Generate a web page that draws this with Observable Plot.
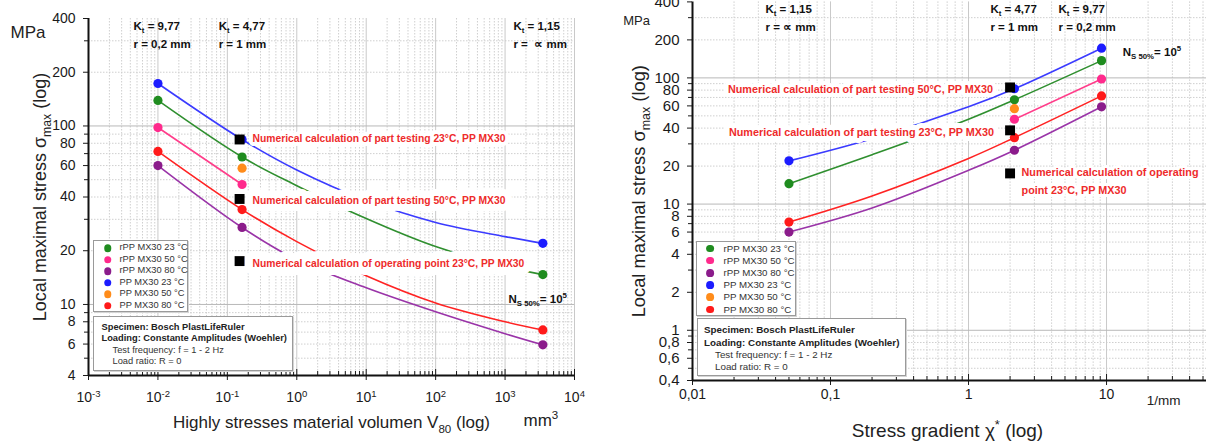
<!DOCTYPE html>
<html><head><meta charset="utf-8">
<script src="https://cdn.jsdelivr.net/npm/d3@7"></script>
<script src="https://cdn.jsdelivr.net/npm/@observablehq/plot@0.6"></script>
<style>
html,body{margin:0;padding:0;background:#fff;}
#wrap{position:relative;width:1206px;height:443px;overflow:hidden;background:#fff;font-family:"Liberation Sans",Arial,Helvetica,sans-serif;}
.panel{position:absolute;top:0;}
.box{position:absolute;background:#fff;border:1px solid #9a9a9a;box-shadow:1px 1px 0 #d4d4d4;box-sizing:border-box;}
.row{position:absolute;white-space:nowrap;line-height:1;transform:translateY(-50%);color:#333;}
.dot{position:absolute;border-radius:50%;transform:translate(-50%,-50%);}
</style></head><body><div id="wrap"></div>
<script>
// ---------------- data ----------------
const seriesNames = ["rPP MX30 23 °C", "rPP MX30 50 °C", "rPP MX30 80 °C", "PP MX30 23 °C", "PP MX30 50 °C", "PP MX30 80 °C"];
const dotColors  = ["#1f8c1f", "#ff2a8c", "#8b1c8b", "#1c1cff", "#ff8c1a", "#ff1a1a"];
const lineColors = ["#2f8f2f", "#ff3d8a", "#9a34a8", "#3b3bff", "#ff8c1a", "#ff2323"];

// Left panel: highly stressed volume V80 (mm^3) — measured points
const volX     = [0.01, 0.163, 3500];
const volRPP23 = [139, 67, 14.7];
const volRPP50 = [98, 47, null];
const volRPP80 = [60, 27, 5.94];
const volPP23  = [173, 84, 22];
const volPP50  = [null, 58, null];
const volPP80  = [72, 34, 7.2];
// Left panel: fitted curves
const volCurveX     = [0.01, 0.163, 1, 10, 100, 1000, 3500];
const volCurveRPP23 = [139, 67, 46.3, 30.3, 21.1, 16.3, 14.7];
const volCurveRPP50 = [98, 47, null, null, null, null, null];
const volCurveRPP80 = [60, 27, 17.8, 12.4, 9.1, 6.86, 5.94];
const volCurvePP23  = [173, 84, 56.7, 38.3, 28.8, 24.0, 22];
const volCurvePP50  = [null, null, null, null, null, null, null];
const volCurvePP80  = [72, 34, 22.5, 14.5, 10.2, 8.0, 7.2];
// Left panel: numerical calculations
const volSquareX = [0.15, 0.15, 0.15];
const volSquareY = [84, 39, 17.5];
const volSquareText = ["Numerical calculation of part testing 23°C, PP MX30", "Numerical calculation of part testing 50°C, PP MX30", "Numerical calculation of operating point 23°C, PP MX30"];

// Right panel: stress gradient chi* (1/mm) — measured points
const gradX     = [0.05, 2.15, 9.2];
const gradRPP23 = [14.5, 67, 137];
const gradRPP50 = [null, 47, 98];
const gradRPP80 = [6, 26.7, 59];
const gradPP23  = [22, 82, 172];
const gradPP50  = [null, 57, null];
const gradPP80  = [7.2, 33.6, 72];
const gradCurveX     = [0.05, 0.2, 1, 2.15, 9.2];
const gradCurveRPP23 = [14.5, 24.6, 47, 67, 137];
const gradCurveRPP50 = [null, null, null, 47, 98];
const gradCurveRPP80 = [6, 9.3, 18.5, 26.7, 59];
const gradCurvePP23  = [22, 33, 59, 82, 172];
const gradCurvePP50  = [null, null, null, null, null];
const gradCurvePP80  = [7.2, 11.6, 23, 33.6, 72];
const gradSquareX = [2, 2, 2];
const gradSquareY = [84, 38.4, 17.5];
const gradSquareText = ["Numerical calculation of part testing 50°C, PP MX30", "Numerical calculation of part testing 23°C, PP MX30", "Numerical calculation of operating\npoint 23°C, PP MX30"];

// notch annotations
const volKtX = [0.00445, 0.0749, 1320];
const gradKtX = [0.0338, 1.44, 4.49];
const ktLeft = ["K_{t} = 9,77", "K_{t} = 4,77", "K_{t} = 1,15"];
const rLeft  = ["r = 0,2 mm", "r = 1 mm", "r =  ∝ mm"];
const ktRight = ["K_{t} = 1,15", "K_{t} = 4,77", "K_{t} = 9,77"];
const rRight  = ["r = ∝ mm", "r = 1 mm", "r = 0,2 mm"];

// ticks
const volDecades = [1e-3, 1e-2, 1e-1, 1, 10, 100, 1000, 10000];
const volYLabels = [4, 6, 8, 10, 20, 40, 60, 80, 100, 200, 400];
const volYMinor  = [5, 7, 9, 30, 50, 70, 90, 300];
const volYGrid   = [5, 6, 7, 8, 9, 20, 30, 40, 50, 60, 70, 80, 90, 200, 300];
const gradDecades = [0.01, 0.1, 1, 10];
const gradYLabels = [0.4, 0.6, 0.8, 1, 2, 4, 6, 8, 10, 20, 40, 60, 80, 100, 200, 400];
const gradYMinor  = [0.5, 0.7, 0.9, 3, 5, 7, 9, 30, 50, 70, 90, 300];
const gradYGrid   = [0.5, 0.6, 0.7, 0.8, 0.9, 2, 3, 4, 5, 6, 7, 8, 9, 20, 30, 40, 50, 60, 70, 80, 90, 200, 300];

const infoLines = ["Specimen: Bosch PlastLifeRuler", "Loading: Constante Amplitudes (Woehler)", "Test frequency: f = 1 - 2 Hz", "Load ratio: R = 0"];

// ---------------- helpers ----------------
const FONT = '"Liberation Sans", Arial, Helvetica, sans-serif';
const NS = "http://www.w3.org/2000/svg";
const INK = "#1a1a1a";

function minorOf(decades, max) {
  const out = [];
  decades.forEach(d => { for (let k = 2; k <= 9; k++) { const v = +(d * k).toPrecision(3); if (v <= max) out.push(v); } });
  return out;
}
function rows(xs, ys) { return xs.map((x, j) => ({x, y: ys[j]})).filter(d => d.y != null); }
const comma = d => String(d).replace(".", ",");

function richify(root) {
  root.querySelectorAll("text, tspan").forEach(el => {
    if (el.children.length) return;
    const s = el.textContent;
    if (!/[_^]\{/.test(s)) return;
    const fs = parseFloat(getComputedStyle(el).fontSize) || 12;
    el.textContent = "";
    const re = /([_^])\{([^}]*)\}/g;
    let last = 0, m, shift = 0;
    const add = (txt, kind) => {
      const ts = document.createElementNS(NS, "tspan");
      const target = kind === "_" ? 0.28 * fs : kind === "^" ? -0.42 * fs : 0;
      if (target - shift !== 0) ts.setAttribute("dy", (target - shift).toFixed(2));
      shift = target;
      if (kind) ts.setAttribute("font-size", (fs * 0.68).toFixed(2));
      ts.textContent = txt;
      el.appendChild(ts);
    };
    while ((m = re.exec(s))) {
      if (m.index > last) add(s.slice(last, m.index), null);
      add(m[2], m[1]);
      last = re.lastIndex;
    }
    if (last < s.length) add(s.slice(last), null);
  });
}

function seriesMarks(curveX, curves, px, points) {
  const marks = [];
  curves.forEach((c, i) => {
    const r = rows(curveX, c);
    if (r.length > 1) marks.push(Plot.line(r, {x: "x", y: "y", stroke: lineColors[i], strokeWidth: 1.6, curve: "catmull-rom"}));
  });
  points.forEach((p, i) => {
    marks.push(Plot.dot(rows(px, p), {x: "x", y: "y", r: 4.6, fill: dotColors[i], stroke: "none"}));
  });
  return marks;
}

function axesMarks(o) {
  return [
    Plot.gridX(o.xMinor, {stroke: "#cfcfcf", strokeOpacity: 1, strokeDasharray: "1.5,1.5"}),
    Plot.gridY(o.yGrid, {stroke: "#cfcfcf", strokeOpacity: 1, strokeDasharray: "1.5,1.5"}),
    Plot.gridX(o.xMajorGrid, {stroke: "#c9c9c9", strokeOpacity: 1}),
    Plot.gridY(o.yMajorGrid, {stroke: "#b8b8b8", strokeOpacity: 1}),
    Plot.axisY(o.yLabels, {tickSize: 5, color: INK, label: null, text: null}),
    Plot.axisY(o.yMinor, {tickSize: 4, color: INK, label: null, text: null}),
    Plot.text(o.yLabels, {y: d => d, text: o.yFmt, frameAnchor: "left", dx: -(5 + o.yPad), textAnchor: "end", lineAnchor: "middle", fontSize: o.yFont, fill: INK}),
    Plot.axisX(o.xMajor, {tickSize: 5, color: INK, label: null, text: null}),
    Plot.text(o.xMajor, {x: d => d, text: o.xFmt, frameAnchor: "bottom", dy: 5 + o.xPad, textAnchor: "middle", lineAnchor: "top", fontSize: 14, fill: INK}),
    Plot.tickX(o.xMinor, {x: d => d, insetTop: o.frameH - 4, stroke: INK}),
    Plot.tickX(o.xMajor, {x: d => d, insetTop: o.frameH - 6, stroke: INK}),
    Plot.ruleX([o.xMajor[0]], {stroke: "#111", strokeWidth: 2}),
    Plot.ruleY([o.yLabels[0]], {stroke: "#111", strokeWidth: 2})
  ];
}

function labelMarks(sx, sy, texts, opts, fs) {
  const data = sy.map((y, i) => ({x: sx[i], y, t: texts[i]}));
  const marks = [Plot.dot(data, {x: "x", y: "y", symbol: "square", r: 5.6, fill: "#000"})];
  opts.forEach((o, i) => {
    marks.push(Plot.text([data[i]], {x: "x", y: "y", text: "t", textAnchor: o.anchor, lineAnchor: "middle", dx: o.dx, dy: o.dy,
      lineHeight: 1.72, fill: "#ee2b2b", fontWeight: "bold", fontSize: fs, stroke: "white", strokeWidth: o.halo, strokeLinejoin: "round", paintOrder: "stroke"}));
  });
  return marks;
}

function ktMarks(xs, kt, rr, dy1, dy2) {
  const d1 = xs.map((x, i) => ({x, t: kt[i]}));
  const d2 = xs.map((x, i) => ({x, t: rr[i]}));
  const common = {x: "x", text: "t", frameAnchor: "top", textAnchor: "start", lineAnchor: "middle", fontWeight: "bold", fontSize: 11.5, fill: "#111"};
  return [Plot.text(d1, {...common, dy: dy1}), Plot.text(d2, {...common, dy: dy2})];
}

// ---------------- left panel ----------------
const wrap = document.getElementById("wrap");
const volFrameH = 443 - 18 - 68;
const left = Plot.plot({
  width: 600, height: 443,
  marginLeft: 88, marginRight: 26, marginTop: 18, marginBottom: 68,
  x: {type: "log", domain: [1e-3, 1e4]},
  y: {type: "log", domain: [4, 400]},
  style: {fontFamily: FONT, fontSize: "12px", background: "transparent", overflow: "visible"},
  marks: [
    ...axesMarks({xMinor: minorOf(volDecades.slice(0, -1), 1e4), yGrid: volYGrid, xMajorGrid: volDecades.slice(1), yMajorGrid: [10, 100],
      yLabels: volYLabels, yMinor: volYMinor, xMajor: volDecades, yPad: 8, yFont: 14, xPad: 12, frameH: volFrameH,
      yFmt: d => String(d), xFmt: d => `10^{${Math.round(Math.log10(d))}}`}),
    ...seriesMarks(volCurveX, [volCurveRPP23, volCurveRPP50, volCurveRPP80, volCurvePP23, volCurvePP50, volCurvePP80],
      volX, [volRPP23, volRPP50, volRPP80, volPP23, volPP50, volPP80]),
    ...labelMarks(volSquareX, volSquareY, volSquareText, [
      {anchor: "start", dx: 13, dy: -3, halo: 8},
      {anchor: "start", dx: 13, dy: -1, halo: 14},
      {anchor: "start", dx: 13, dy: 0, halo: 16}], 10.3),
    ...ktMarks(volKtX, ktLeft, rLeft, 8, 26),
    Plot.text([{x: 1120, y: 10.7, t: "N_{S 50%}= 10^{5}"}], {x: "x", y: "y", text: "t", textAnchor: "start", fontWeight: "bold", fontSize: 11.5, fill: "#111"}),
    Plot.text(["MPa"], {text: d => d, frameAnchor: "top-left", dx: -78, dy: 14, textAnchor: "start", lineAnchor: "middle", fontSize: 17, fill: "#222"}),
    Plot.text(["Local maximal stress σ_{max} (log)"], {text: d => d, frameAnchor: "left", dx: -48, dy: 0, rotate: -90, textAnchor: "middle", lineAnchor: "middle", fontSize: 18, fill: "#222"}),
    Plot.text(["Highly stresses material volumen V_{80} (log)"], {text: d => d, frameAnchor: "bottom", dy: 47, textAnchor: "middle", lineAnchor: "middle", fontSize: 17, fill: "#222"}),
    Plot.text(["mm^{3}"], {text: d => d, frameAnchor: "bottom-right", dx: -51, dy: 45, textAnchor: "start", lineAnchor: "middle", fontSize: 17, fill: "#222"})
  ]
});
left.classList.add("panel"); left.style.left = "0px";
wrap.appendChild(left);

// ---------------- right panel ----------------
const gradFrameH = 443 - 1.4 - 63;
const right = Plot.plot({
  width: 606, height: 443,
  marginLeft: 92, marginRight: 0, marginTop: 1.4, marginBottom: 63,
  x: {type: "log", domain: [0.01, 53]},
  y: {type: "log", domain: [0.4, 400]},
  style: {fontFamily: FONT, fontSize: "12px", background: "transparent", overflow: "visible"},
  marks: [
    ...axesMarks({xMinor: minorOf(gradDecades, 53), yGrid: gradYGrid, xMajorGrid: gradDecades.slice(1), yMajorGrid: [1, 10, 100],
      yLabels: gradYLabels, yMinor: gradYMinor, xMajor: gradDecades, yPad: 8, yFont: 15, xPad: 4, frameH: gradFrameH,
      yFmt: comma, xFmt: comma}),
    ...seriesMarks(gradCurveX, [gradCurveRPP23, gradCurveRPP50, gradCurveRPP80, gradCurvePP23, gradCurvePP50, gradCurvePP80],
      gradX, [gradRPP23, gradRPP50, gradRPP80, gradPP23, gradPP50, gradPP80]),
    ...labelMarks(gradSquareX, gradSquareY, gradSquareText, [
      {anchor: "end", dx: -17, dy: 0, halo: 8},
      {anchor: "end", dx: -16, dy: 0, halo: 10},
      {anchor: "start", dx: 11.5, dy: 5.5, halo: 6}], 10.8),
    ...ktMarks(gradKtX, ktRight, rRight, 7, 25.5),
    Plot.text([{x: 13.1, y: 160, t: "N_{S 50%}= 10^{5}"}], {x: "x", y: "y", text: "t", textAnchor: "start", fontWeight: "bold", fontSize: 11.5, fill: "#111"}),
    Plot.text(["MPa"], {text: d => d, frameAnchor: "top-left", dx: -69.3, dy: 19.3, textAnchor: "start", lineAnchor: "middle", fontSize: 13, fill: "#222"}),
    Plot.text(["Local maximal stress σ_{max} (log)"], {text: d => d, frameAnchor: "left", dx: -53, dy: 0, rotate: -90, textAnchor: "middle", lineAnchor: "middle", fontSize: 18.3, fill: "#222"}),
    Plot.text(["Stress gradient χ^{*} (log)"], {text: d => d, frameAnchor: "bottom", dx: -2, dy: 50, textAnchor: "middle", lineAnchor: "middle", fontSize: 19, fill: "#222"}),
    Plot.text(["1/mm"], {text: d => d, frameAnchor: "bottom-right", dx: -43, dy: 20, textAnchor: "middle", lineAnchor: "middle", fontSize: 13.5, fill: "#222"})
  ]
});
right.classList.add("panel"); right.style.left = "600px";
wrap.appendChild(right);

richify(left);
richify(right);

// ---------------- legend & info boxes (overlays) ----------------
function legendBox(lx, ty, w, h, cx, tx, y0, step, fs, dd) {
  const b = document.createElement("div");
  b.className = "box";
  Object.assign(b.style, {left: lx + "px", top: ty + "px", width: w + "px", height: h + "px"});
  seriesNames.forEach((name, i) => {
    const d = document.createElement("div");
    d.className = "dot";
    Object.assign(d.style, {left: cx + "px", top: (y0 + i * step) + "px", width: dd + "px", height: dd + "px", background: dotColors[i]});
    b.appendChild(d);
    const t = document.createElement("div");
    t.className = "row";
    Object.assign(t.style, {left: tx + "px", top: (y0 + i * step) + "px", fontSize: fs + "px"});
    t.textContent = name;
    b.appendChild(t);
  });
  wrap.appendChild(b);
}
function infoBox(lx, ty, w, h, bx, ix, ys, fs) {
  const b = document.createElement("div");
  b.className = "box";
  Object.assign(b.style, {left: lx + "px", top: ty + "px", width: w + "px", height: h + "px"});
  infoLines.forEach((line, i) => {
    const t = document.createElement("div");
    t.className = "row";
    Object.assign(t.style, {left: (i < 2 ? bx : ix) + "px", top: ys[i] + "px", fontSize: fs + "px", fontWeight: i < 2 ? "bold" : "normal", color: i < 2 ? "#222" : "#333"});
    t.textContent = line;
    b.appendChild(t);
  });
  wrap.appendChild(b);
}
legendBox(93, 240, 95, 72, 13.5, 25.5, 7.3, 11.5, 9.3, 7.5);
legendBox(696, 241, 100, 75, 13, 26.5, 6.5, 12.2, 9.7, 7.8);
infoBox(93, 316, 200, 55, 7.5, 18.5, [10.5, 22.2, 33.8, 45.2], 9.3);
infoBox(696.5, 318.3, 209.5, 58, 6.5, 17.5, [10.7, 23.4, 36, 47.7], 9.8);
</script></body></html>
